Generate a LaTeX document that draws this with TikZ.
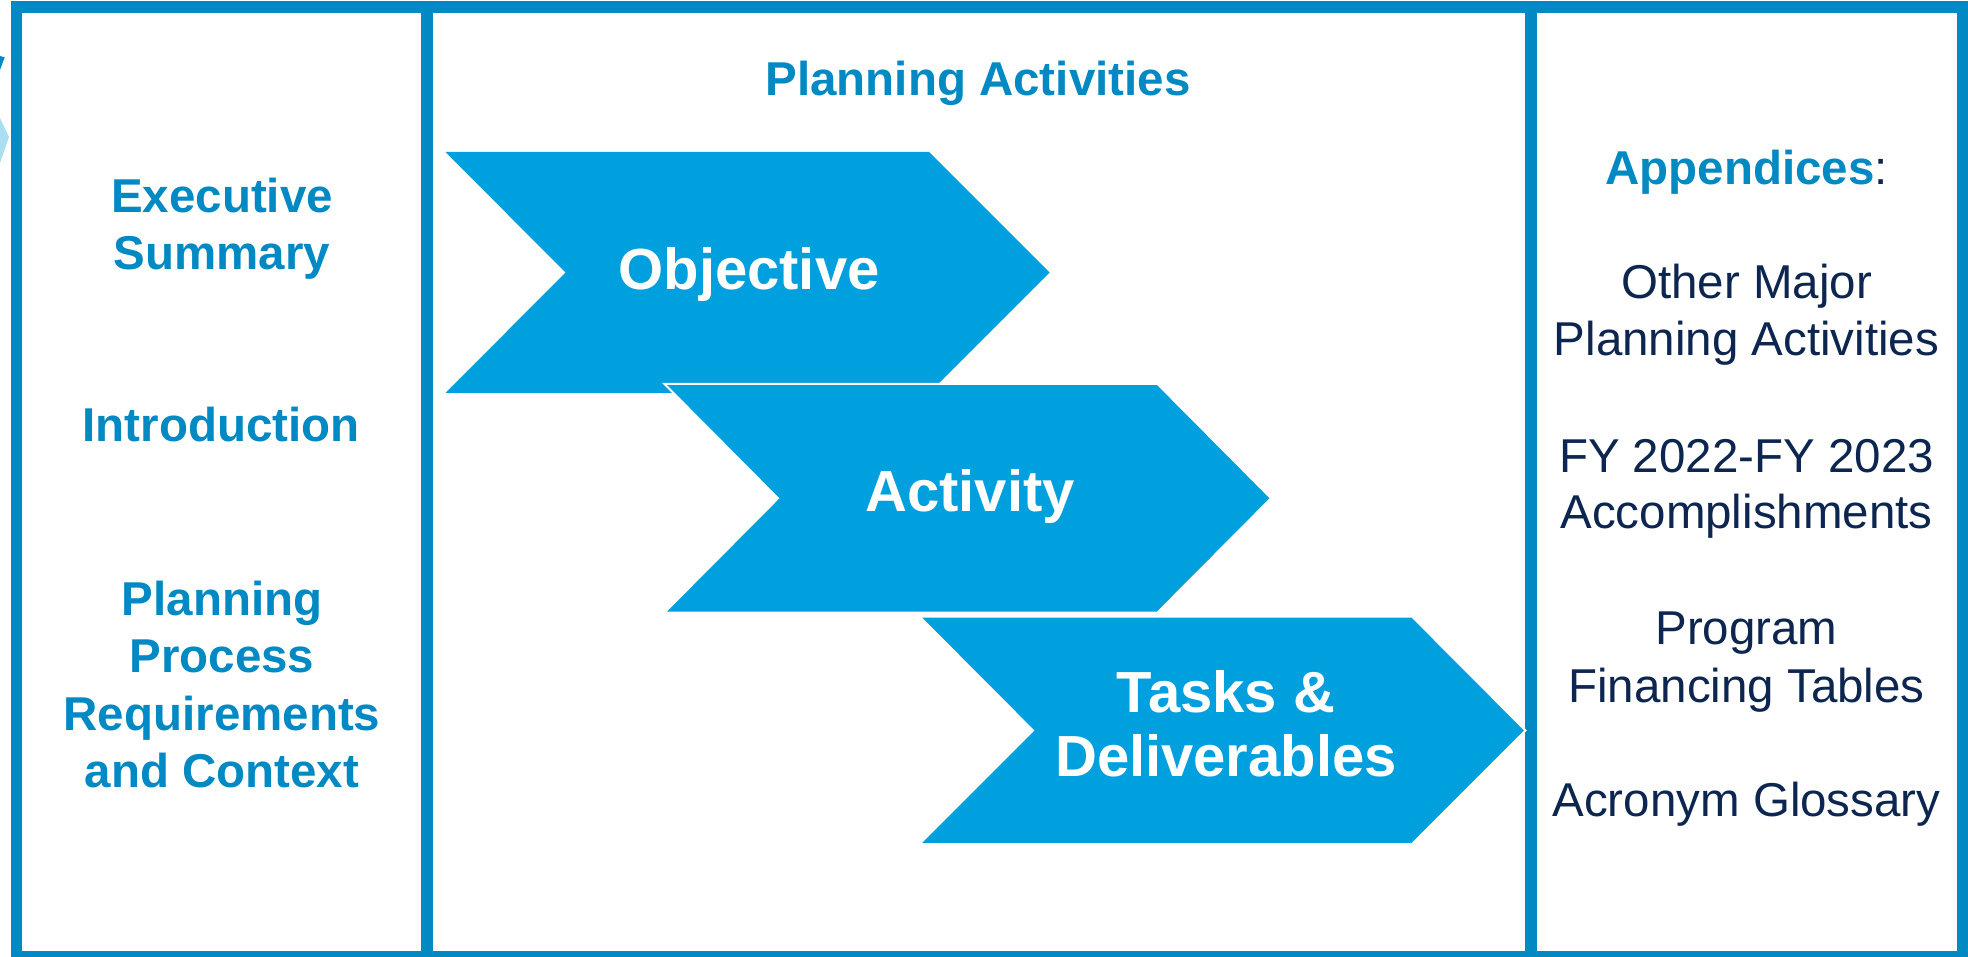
\documentclass[tikz,border=0pt]{standalone}
\usepackage{fontspec}
\setmainfont{Liberation Sans}
\definecolor{frameblue}{RGB}{0,137,194}
\definecolor{chevblue}{RGB}{0,159,221}
\definecolor{headblue}{RGB}{0,137,194}
\definecolor{navy}{RGB}{12,38,80}
\definecolor{paleblue}{RGB}{172,222,242}
\tikzset{
  frame/.style={draw=frameblue, line width=11.5pt},
  chev/.style={fill=chevblue, draw=white, line width=2pt, line join=miter},
  chevplain/.style={fill=chevblue},
  lefttxt/.style={anchor=base, text=headblue, font=\fontsize{47.5}{57}\selectfont\bfseries, inner sep=0pt},
  righttxt/.style={anchor=base, text=navy, font=\fontsize{47.5}{57}\selectfont, inner sep=0pt},
  chevtxt/.style={anchor=base, text=white, font=\fontsize{58}{64}\selectfont\bfseries, inner sep=0pt},
}
\begin{document}
\begin{tikzpicture}[x=1pt,y=-1pt]
\useasboundingbox (0,0) rectangle (1968,957);
\fill[white] (0,0) rectangle (1968,957);
% fragments at the left edge
\fill[frameblue] (0,56) -- (4.7,57.3) -- (0,70) -- cycle;
\fill[paleblue] (0,118) -- (9,137) -- (0,163) -- cycle;
% frames
\draw[frame] (16.5,7) rectangle (427,957);
\draw[frame] (427,7) rectangle (1531,957);
\draw[frame] (1531,7) rectangle (1962.5,957);
% chevrons
\path[chevplain] (445.5,152) -- (929,152) -- (1049.5,272.5) -- (929,393) -- (445.5,393) -- (565.5,272.5) -- cycle;
\draw[chev] (664.5,384) -- (1157.5,384) -- (1271,498.3) -- (1157.5,612.5) -- (664.5,612.5) -- (778,498.3) -- cycle;
\draw[chev] (919.5,616.5) -- (1412,616.5) -- (1525.5,730.5) -- (1412,844) -- (919.5,844) -- (1033,730.5) -- cycle;
% chevron texts
\node[chevtxt] (obj) at (749,290) {Objective};
\node[chevtxt] (act) at (970,511) {Activity};
\node[chevtxt] (tasks1) at (1226,712) {Tasks \&};
\node[chevtxt] (tasks2) at (1226,776) {Deliverables};
% title
\node[lefttxt] (title) at (978,96) {Planning Activities};
% left column
\node[lefttxt] (exec1) at (222,212.3) {Executive};
\node[lefttxt] (exec2) at (222,269.3) {Summary};
\node[lefttxt] (intro) at (221,442) {Introduction};
\node[lefttxt] (ppr1) at (222,615.7) {Planning};
\node[lefttxt] (ppr2) at (222,672.3) {Process};
\node[lefttxt] (ppr3) at (222,730) {Requirements};
\node[lefttxt] (ppr4) at (222,787.3) {and Context};
% right column
\node[righttxt] (app) at (1746.5,184.3) {\textcolor{headblue}{\bfseries Appendices}:};
\node[righttxt] (omp1) at (1746.5,299) {Other Major};
\node[righttxt] (omp2) at (1746.5,356) {Planning Activities};
\node[righttxt] (fy1) at (1746.5,472.7) {FY 2022-FY 2023};
\node[righttxt] (fy2) at (1746.5,528.7) {Accomplishments};
\node[righttxt] (pft1) at (1746.5,644.3) {Program};
\node[righttxt] (pft2) at (1746.5,702.7) {Financing Tables};
\node[righttxt] (acr) at (1746.5,816.7) {Acronym Glossary};
\end{tikzpicture}
\end{document}
